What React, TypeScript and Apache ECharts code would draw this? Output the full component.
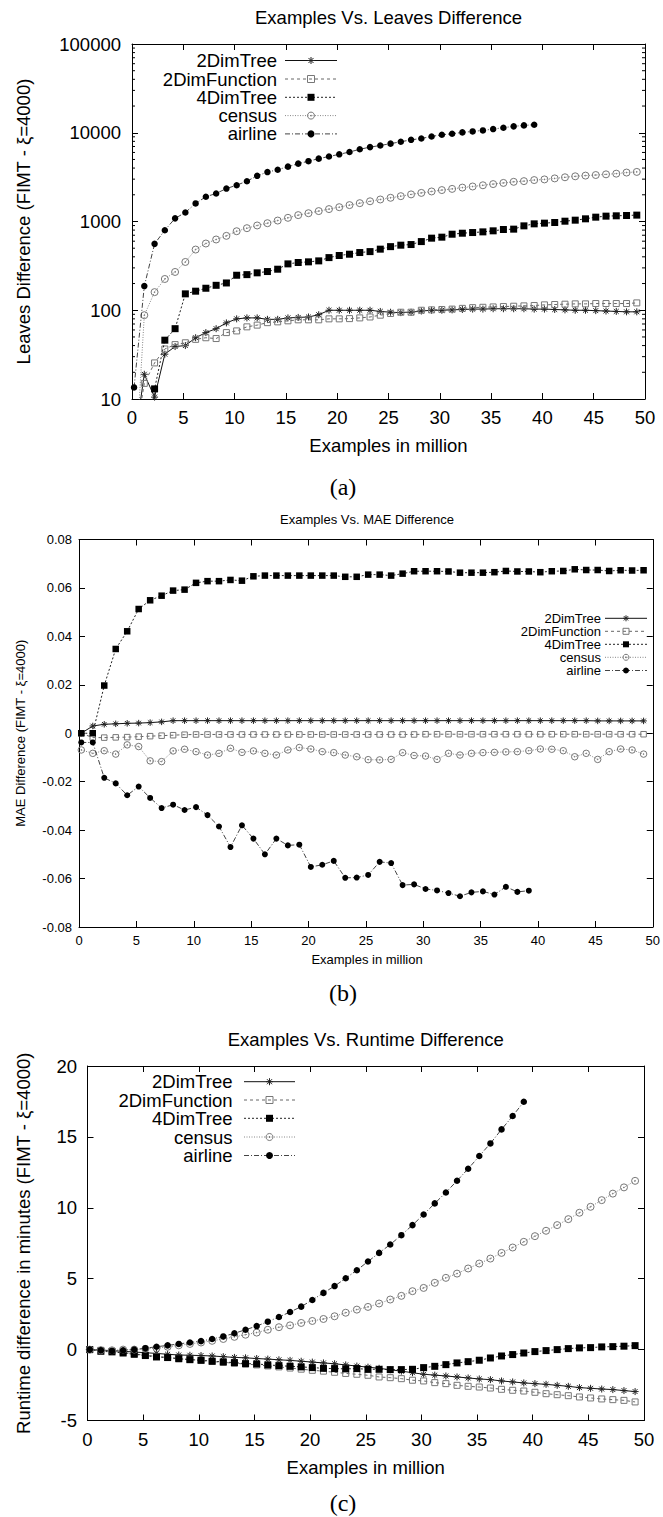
import React, { useEffect, useRef } from "react";
import * as echarts from "echarts";

// ---------------- data ----------------
const EXAMPLES = [
  0.2, 1.2, 2.2, 3.2, 4.2, 5.2, 6.2, 7.2, 8.2, 9.2,
  10.2, 11.2, 12.2, 13.2, 14.2, 15.2, 16.2, 17.2, 18.2, 19.2,
  20.2, 21.2, 22.2, 23.2, 24.2, 25.2, 26.2, 27.2, 28.2, 29.2,
  30.2, 31.2, 32.2, 33.2, 34.2, 35.2, 36.2, 37.2, 38.2, 39.2,
  40.2, 41.2, 42.2, 43.2, 44.2, 45.2, 46.2, 47.2, 48.2, 49.2,
];
const X_TICKS = [0, 5, 10, 15, 20, 25, 30, 35, 40, 45, 50];

// (a) Leaves difference (log scale)
const A_2DIMTREE = [
  3, 19, 10.5, 32, 39, 40, 49, 56, 62, 72,
  80, 82, 82, 79, 79, 82, 83, 84, 89, 100,
  100, 100, 100, 100, 97, 95, 94, 95, 98, 100,
  100, 101, 102, 103, 103, 104, 104, 104, 104, 103,
  103, 102, 101, 100, 100, 99, 98, 97, 96, 96,
];
const A_2DIMFUNCTION = [
  3, 15, 25.5, 36.6, 41, 43, 47, 49, 48, 56,
  58.5, 65, 68, 72.5, 74, 76, 78, 78, 78, 80,
  80, 80.5, 82, 84, 88, 92, 95, 95, 100, 101,
  102, 103, 105, 107, 108, 109, 110, 111, 112, 113,
  115, 116, 117, 118, 118, 119, 119, 119, 119, 121,
];
const A_4DIMTREE = [
  1, 1, 13, 46, 62, 153, 164, 177, 191, 203,
  248, 252, 264, 273, 290, 333, 345, 351, 360, 392,
  414, 428, 447, 458, 488, 521, 541, 550, 594, 649,
  666, 719, 738, 751, 764, 785, 812, 820, 893, 941,
  958, 975, 1008, 1035, 1072, 1119, 1149, 1159, 1169, 1180,
];
const A_CENSUS = [
  1, 88, 160, 225, 270, 350, 483, 565, 627, 689,
  777, 841, 902, 957, 1025, 1100, 1180, 1240, 1310, 1380,
  1450, 1530, 1610, 1690, 1770, 1850, 1930, 2020, 2100, 2180,
  2260, 2330, 2410, 2480, 2560, 2640, 2720, 2800, 2850, 2930,
  2980, 3060, 3150, 3230, 3290, 3340, 3400, 3460, 3560, 3620,
];
const A_AIRLINE = [
  13.5, 187, 560, 798, 1085, 1262, 1598, 1900, 2070, 2350,
  2565, 2845, 3270, 3605, 3830, 4150, 4485, 4785, 5110, 5400,
  5715, 6070, 6510, 6890, 7185, 7540, 7910, 8320, 8620, 9080,
  9490, 9750, 10090, 10350, 10620, 11000, 11400, 11800, 12100, 12300,
];
const A_Y_DECADES = [10, 100, 1000, 10000];
const A_Y_MINOR_STEPS = [2, 3, 4, 5, 6, 7, 8, 9];

// (b) MAE difference
const B_2DIMTREE = [
  0, 0.003, 0.0037, 0.0039, 0.0041, 0.0042, 0.0044, 0.0047, 0.0052, 0.0052,
  0.0052, 0.0052, 0.0052, 0.0052, 0.0052, 0.0052, 0.0052, 0.0052, 0.0052, 0.0052,
  0.0052, 0.0052, 0.0052, 0.0052, 0.0052, 0.0052, 0.0052, 0.0052, 0.0052, 0.0052,
  0.0052, 0.0052, 0.0052, 0.0052, 0.0052, 0.0052, 0.0052, 0.0052, 0.0052, 0.0052,
  0.0052, 0.0052, 0.0052, 0.0052, 0.0052, 0.0051, 0.0051, 0.0051, 0.0051, 0.0051,
];
const B_2DIMFUNCTION = [
  0, -0.0018, -0.0018, -0.0017, -0.0016, -0.0014, -0.0012, -0.001, -0.0008, -0.0006,
  -0.0005, -0.0005, -0.0005, -0.0005, -0.0005, -0.0005, -0.0005, -0.0005, -0.0005, -0.0005,
  -0.0005, -0.0005, -0.0005, -0.0005, -0.0005, -0.0005, -0.0005, -0.0005, -0.0005, -0.0005,
  -0.0004, -0.0004, -0.0004, -0.0004, -0.0004, -0.0004, -0.0004, -0.0004, -0.0004, -0.0004,
  -0.0004, -0.0004, -0.0004, -0.0004, -0.0004, -0.0004, -0.0004, -0.0004, -0.0004, -0.0004,
];
const B_4DIMTREE = [
  0, 0, 0.0197, 0.0348, 0.0421, 0.0513, 0.0549, 0.0568, 0.0589, 0.0593,
  0.0621, 0.0628, 0.0628, 0.0633, 0.063, 0.0648, 0.0651, 0.0651, 0.0651, 0.0651,
  0.0651, 0.0651, 0.0651, 0.0646, 0.0646, 0.0655, 0.0655, 0.0651, 0.0659, 0.0669,
  0.0669, 0.0669, 0.0668, 0.0663, 0.0663, 0.0663, 0.0665, 0.067, 0.0668, 0.0668,
  0.0665, 0.0669, 0.067, 0.0677, 0.0674, 0.0674, 0.067, 0.0673, 0.0672, 0.0673,
];
const B_CENSUS = [
  -0.0069, -0.0083, -0.0072, -0.0086, -0.0048, -0.0055, -0.0114, -0.0117, -0.0073, -0.0066,
  -0.0076, -0.009, -0.0083, -0.0062, -0.0079, -0.0073, -0.0083, -0.009, -0.0069, -0.0059,
  -0.0065, -0.0076, -0.008, -0.009, -0.0097, -0.0109, -0.011, -0.0108, -0.008, -0.0092,
  -0.0094, -0.0108, -0.0083, -0.009, -0.0083, -0.008, -0.0079, -0.0077, -0.0076, -0.0072,
  -0.0065, -0.0066, -0.0072, -0.0097, -0.0083, -0.0108, -0.0076, -0.0065, -0.0069, -0.0086,
];
const B_AIRLINE = [
  -0.0038, -0.0038, -0.0184, -0.0207, -0.0256, -0.022, -0.0267, -0.0309, -0.0295, -0.0317,
  -0.0305, -0.0338, -0.0385, -0.047, -0.038, -0.0435, -0.05, -0.0435, -0.0463, -0.046,
  -0.0552, -0.0543, -0.0527, -0.0597, -0.0596, -0.0585, -0.0531, -0.0536, -0.0627, -0.0624,
  -0.0643, -0.0649, -0.066, -0.0673, -0.0657, -0.0653, -0.0666, -0.0634, -0.0655, -0.065,
];

// (c) Runtime difference in minutes
const C_2DIMTREE = [
  0, -0.03, -0.08, -0.12, -0.17, -0.22, -0.27, -0.33, -0.38, -0.4,
  -0.42, -0.45, -0.5, -0.55, -0.58, -0.63, -0.67, -0.72, -0.76, -0.82,
  -0.88, -0.94, -1.0, -1.08, -1.16, -1.24, -1.32, -1.42, -1.52, -1.63,
  -1.74, -1.8, -1.86, -1.93, -2.0, -2.07, -2.12, -2.21, -2.28, -2.35,
  -2.4, -2.45, -2.52, -2.59, -2.68, -2.73, -2.78, -2.82, -2.89, -2.96,
];
const C_2DIMFUNCTION = [
  0, -0.05, -0.12, -0.2, -0.3, -0.4, -0.48, -0.56, -0.64, -0.7,
  -0.77, -0.84, -0.9, -0.96, -1.02, -1.08, -1.15, -1.22, -1.3, -1.38,
  -1.46, -1.52, -1.6, -1.68, -1.74, -1.81, -1.93, -1.98, -2.05, -2.16,
  -2.21, -2.33, -2.4, -2.52, -2.59, -2.64, -2.71, -2.8, -2.87, -2.92,
  -3.01, -3.11, -3.18, -3.25, -3.34, -3.41, -3.48, -3.53, -3.58, -3.69,
];
const C_4DIMTREE = [
  0, -0.12, -0.16, -0.24, -0.33, -0.42, -0.52, -0.56, -0.64, -0.71,
  -0.75, -0.82, -0.87, -0.92, -0.99, -1.01, -1.08, -1.13, -1.18, -1.22,
  -1.27, -1.32, -1.34, -1.36, -1.34, -1.39, -1.39, -1.41, -1.41, -1.39,
  -1.27, -1.18, -1.06, -0.94, -0.85, -0.75, -0.59, -0.45, -0.35, -0.24,
  -0.14, -0.07, 0, 0.07, 0.12, 0.14, 0.19, 0.21, 0.24, 0.28,
];
const C_CENSUS = [
  0, -0.05, -0.05, 0, 0, 0.05, 0.1, 0.2, 0.3, 0.4,
  0.5, 0.62, 0.75, 0.9, 1.05, 1.2, 1.4, 1.58, 1.71, 1.88,
  2.02, 2.16, 2.35, 2.6, 2.82, 3.01, 3.25, 3.53, 3.79, 4.12,
  4.35, 4.71, 5.06, 5.36, 5.72, 6.07, 6.42, 6.82, 7.2, 7.6,
  8.0, 8.38, 8.78, 9.2, 9.65, 10.07, 10.54, 11.0, 11.44, 11.9,
];
const C_AIRLINE = [
  0, -0.05, -0.1, -0.05, 0, 0.1, 0.2, 0.3, 0.4, 0.5,
  0.6, 0.75, 0.93, 1.15, 1.4, 1.66, 1.97, 2.3, 2.65, 3.03,
  3.5, 4.0, 4.48, 5.03, 5.6, 6.21, 6.82, 7.41, 8.07, 8.78,
  9.53, 10.31, 11.08, 11.91, 12.75, 13.65, 14.54, 15.53, 16.47, 17.48,
];

const SERIES_NAMES = ["2DimTree", "2DimFunction", "4DimTree", "census", "airline"];

const TITLES = [
  "Examples Vs. Leaves Difference",
  "Examples Vs. MAE Difference",
  "Examples Vs. Runtime Difference",
];
const X_NAME = "Examples in million";
const Y_NAMES = [
  "Leaves Difference (FIMT - ξ=4000)",
  "MAE Difference (FIMT - ξ=4000)",
  "Runtime difference in minutes (FIMT - ξ=4000)",
];
const SUB_LABELS = ["(a)", "(b)", "(c)"];

// ---------------- styles ----------------
const FONT = '"Liberation Sans", Arial, Helvetica, sans-serif';
const SERIF = '"Liberation Serif", "DejaVu Serif", serif';

const ASTERISK = "path://M5 0L5 10M0 5L10 5M1.5 1.5L8.5 8.5M8.5 1.5L1.5 8.5";
const OPEN_SQUARE = "path://M0 0L10 0L10 10L0 10Z";
const CIRCLE_DOT =
  "path://M0 5A5 5 0 1 1 10 5A5 5 0 1 1 0 5ZM4.4 5A0.6 0.6 0 1 1 5.6 5A0.6 0.6 0 1 1 4.4 5Z";

const STYLE: Record<string, any> = {
  "2DimTree": { line: "#111", dash: "solid", gdash: null, symbol: ASTERISK, fill: "none", stroke: "#222", size: 7 },
  "2DimFunction": { line: "#666", dash: [3, 3], gdash: [3, 3], symbol: OPEN_SQUARE, fill: "none", stroke: "#777", size: 6 },
  "4DimTree": { line: "#222", dash: [2, 2], gdash: [2, 2], symbol: "rect", fill: "#000", stroke: "#000", size: 7 },
  census: { line: "#888", dash: [1, 1.5], gdash: [1, 1.5], symbol: CIRCLE_DOT, fill: "none", stroke: "#777", size: 7 },
  airline: { line: "#444", dash: [5, 2, 1, 2], gdash: [5, 2, 1, 2], symbol: "circle", fill: "#000", stroke: "#000", size: 6.5 },
};

// layout of the three panels
const PANELS = [
  {
    grid: { left: 132, top: 44, width: 513, height: 355 },
    font: 18.5, xMargin: 9, yMargin: 11,
    titleY: 17, xNameY: 445, yNameX: 23, subY: 487,
    legend: { right: 277, x1: 285, x2: 337, ys: [60.5, 79, 97.3, 115.6, 133.9], size: 7 },
  },
  {
    grid: { left: 79, top: 539.5, width: 576, height: 387.5 },
    font: 13, xMargin: 6.5, yMargin: 7,
    titleY: 519, xNameY: 959, yNameX: 20, subY: 993,
    legend: { right: 601, x1: 605, x2: 647, ys: [618.3, 631.3, 644.3, 657.3, 670.5], size: 6 },
  },
  {
    grid: { left: 87.5, top: 1066, width: 556.5, height: 354.5 },
    font: 18.5, xMargin: 9.5, yMargin: 10.5,
    titleY: 1039, xNameY: 1467, yNameX: 23, subY: 1503,
    legend: { right: 232.6, x1: 244, x2: 295, ys: [1081.7, 1100, 1118.3, 1137, 1155.5], size: 7 },
  },
];

function pairs(vals: number[]) {
  return vals.map((v, i) => [EXAMPLES[i], v]);
}

function legendMarker(name: string, cx: number, cy: number, s: number) {
  const h = s / 2;
  const st = STYLE[name];
  if (name === "2DimTree") {
    const d = h * 0.72;
    const ls = { stroke: st.stroke, lineWidth: 1 };
    return {
      type: "group",
      children: [
        { type: "line", shape: { x1: cx - h, y1: cy, x2: cx + h, y2: cy }, style: ls },
        { type: "line", shape: { x1: cx, y1: cy - h, x2: cx, y2: cy + h }, style: ls },
        { type: "line", shape: { x1: cx - d, y1: cy - d, x2: cx + d, y2: cy + d }, style: ls },
        { type: "line", shape: { x1: cx + d, y1: cy - d, x2: cx - d, y2: cy + d }, style: ls },
      ],
    };
  }
  if (name === "2DimFunction") {
    return { type: "rect", shape: { x: cx - h, y: cy - h, width: s, height: s }, style: { fill: "none", stroke: st.stroke, lineWidth: 1 } };
  }
  if (name === "4DimTree") {
    return { type: "rect", shape: { x: cx - h, y: cy - h, width: s, height: s }, style: { fill: "#000" } };
  }
  if (name === "census") {
    return {
      type: "group",
      children: [
        { type: "circle", shape: { cx, cy, r: h }, style: { fill: "none", stroke: st.stroke, lineWidth: 1 } },
        { type: "circle", shape: { cx, cy, r: 0.8 }, style: { fill: st.stroke } },
      ],
    };
  }
  return { type: "circle", shape: { cx, cy, r: h }, style: { fill: "#000" } };
}

function buildOption() {
  const dataSets = [
    [A_2DIMTREE, A_2DIMFUNCTION, A_4DIMTREE, A_CENSUS, A_AIRLINE],
    [B_2DIMTREE, B_2DIMFUNCTION, B_4DIMTREE, B_CENSUS, B_AIRLINE],
    [C_2DIMTREE, C_2DIMFUNCTION, C_4DIMTREE, C_CENSUS, C_AIRLINE],
  ];

  const grid: any[] = [];
  const xAxis: any[] = [];
  const yAxis: any[] = [];
  const series: any[] = [];
  const graphic: any[] = [];

  PANELS.forEach((p, gi) => {
    grid.push({ ...p.grid, containLabel: false });
    const axisLine = { show: true, onZero: false, lineStyle: { color: "#000", width: 1 } };
    const tick = { show: true, inside: true, length: 6, lineStyle: { color: "#000", width: 1 } };
    const labelStyle = { color: "#000", fontSize: p.font, fontFamily: FONT };

    xAxis.push({
      type: "value", gridIndex: gi, position: "bottom", min: X_TICKS[0], max: X_TICKS[X_TICKS.length - 1], interval: 5,
      axisLine, axisTick: tick, splitLine: { show: false },
      axisLabel: { ...labelStyle, margin: p.xMargin },
    });
    xAxis.push({
      type: "value", gridIndex: gi, position: "top", min: X_TICKS[0], max: X_TICKS[X_TICKS.length - 1], interval: 5,
      axisLine, axisTick: tick, splitLine: { show: false }, axisLabel: { show: false },
    });

    let yCfg: any;
    if (gi === 0) {
      yCfg = { type: "log", logBase: 10, min: 10, max: 100000, splitNumber: 4 };
    } else if (gi === 1) {
      yCfg = { type: "value", min: -0.08, max: 0.08, interval: 0.02 };
    } else {
      yCfg = { type: "value", min: -5, max: 20, interval: 5 };
    }
    yAxis.push({
      ...yCfg, gridIndex: gi, position: "left",
      axisLine, axisTick: tick, splitLine: { show: false },
      axisLabel: {
        ...labelStyle, margin: p.yMargin,
        formatter: gi === 0 ? (v: number) => String(Math.round(v)) : undefined,
      },
    });
    yAxis.push({
      ...yCfg, gridIndex: gi, position: "right",
      axisLine, axisTick: tick, splitLine: { show: false }, axisLabel: { show: false },
    });

    SERIES_NAMES.forEach((name, si) => {
      const st = STYLE[name];
      const isPath = typeof st.symbol === "string" && st.symbol.startsWith("path://");
      const size = gi === 1 ? st.size - 0.5 : st.size;
      series.push({
        type: "line",
        name,
        xAxisIndex: gi * 2,
        yAxisIndex: gi * 2,
        data: pairs(dataSets[gi][si]),
        symbol: st.symbol,
        symbolSize: size,
        showSymbol: true,
        showAllSymbol: true,
        clip: true,
        silent: true,
        z: 2 + si,
        lineStyle: { color: st.line, width: 1, type: st.dash },
        itemStyle: isPath
          ? { color: "none", borderColor: st.stroke, borderWidth: 1 }
          : { color: st.fill, borderWidth: 0 },
        emphasis: { disabled: true },
      });
    });

    // text: title, axis names, sub-label
    const cx = p.grid.left + p.grid.width / 2;
    const cy = p.grid.top + p.grid.height / 2;
    const txt = (text: string, x: number, y: number, size: number, extra: any = {}) => ({
      type: "text",
      x, y,
      silent: true,
      style: {
        text, fill: "#000", fontSize: size, fontFamily: extra.family || FONT,
        align: extra.align || "center", verticalAlign: "middle",
      },
    });
    graphic.push(txt(TITLES[gi], cx, p.titleY, gi === 1 ? 13 : p.font));
    graphic.push(txt(X_NAME, cx, p.xNameY, p.font));
    graphic.push({ ...txt(Y_NAMES[gi], p.yNameX, cy, p.font), rotation: Math.PI / 2 });
    graphic.push(txt(SUB_LABELS[gi], 343, p.subY, 24, { family: SERIF }));

    // legend
    const lg = p.legend;
    SERIES_NAMES.forEach((name, si) => {
      const st = STYLE[name];
      const y = lg.ys[si];
      graphic.push(txt(name, lg.right, y, p.font, { align: "right" }));
      graphic.push({
        type: "line", silent: true,
        shape: { x1: lg.x1, y1: y, x2: lg.x2, y2: y },
        style: { stroke: st.line, lineWidth: 1, lineDash: st.gdash || null },
      });
      graphic.push({ ...legendMarker(name, (lg.x1 + lg.x2) / 2, y, lg.size), silent: true });
    });
  });

  // minor log ticks on panel (a), left and right borders
  const minor: number[][] = [];
  A_Y_DECADES.forEach((d) => A_Y_MINOR_STEPS.forEach((m) => minor.push([0, d * m])));
  series.push({
    type: "custom",
    xAxisIndex: 0,
    yAxisIndex: 0,
    silent: true,
    clip: false,
    z: 1,
    data: minor,
    renderItem: (params: any, api: any) => {
      const v = api.value(1);
      const l = api.coord([X_TICKS[0], v]);
      const r = api.coord([X_TICKS[X_TICKS.length - 1], v]);
      const ls = { stroke: "#000", lineWidth: 1 };
      return {
        type: "group",
        children: [
          { type: "line", shape: { x1: l[0], y1: l[1], x2: l[0] + 3, y2: l[1] }, style: ls },
          { type: "line", shape: { x1: r[0] - 3, y1: r[1], x2: r[0], y2: r[1] }, style: ls },
        ],
      };
    },
  });

  return {
    animation: false,
    backgroundColor: "#fff",
    grid,
    xAxis,
    yAxis,
    series,
    graphic: { elements: graphic },
  };
}

export default function App() {
  const ref = useRef<HTMLDivElement | null>(null);
  useEffect(() => {
    if (!ref.current) return;
    const chart = echarts.init(ref.current, undefined, { renderer: "svg" });
    chart.setOption(buildOption() as any);
    return () => chart.dispose();
  }, []);
  return (
    <div
      ref={ref}
      style={{ position: "absolute", left: 0, top: 0, width: 663, height: 1517, background: "#fff" }}
    />
  );
}
